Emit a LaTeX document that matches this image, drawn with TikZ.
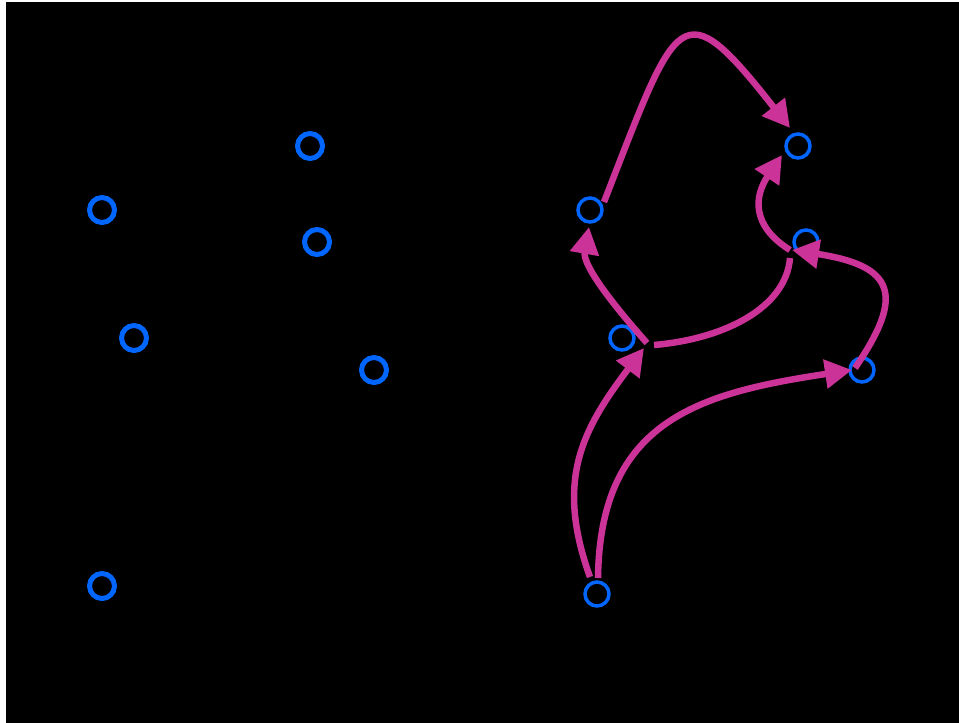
\documentclass[tikz,border=0pt]{standalone}
\usepackage{tikz}
\usetikzlibrary{arrows.meta}
\definecolor{ringblue}{RGB}{0,102,255}
\definecolor{linkpink}{RGB}{204,51,153}

\begin{document}
\begin{tikzpicture}[x=1pt,y=-1pt]
\tikzstyle{state} = [circle, draw=ringblue, line width=5pt, minimum size=25pt, inner sep=0pt]
\tikzstyle{mirror} = [circle, draw=ringblue, line width=3.5pt, minimum size=24pt, inner sep=0pt]
\tikzstyle{link} = [draw=linkpink, line width=6.5pt, -{Triangle[length=27pt,width=28pt]}]
\tikzstyle{bare} = [draw=linkpink, line width=6.5pt]
\useasboundingbox (0,0) rectangle (959,723);
\fill[black] (6,2) rectangle (959,723);
% left group
\node [state] (a1) at (102,210) {};
\node [state] (a2) at (310,146) {};
\node [state] (a3) at (317,242) {};
\node [state] (a4) at (134,338) {};
\node [state] (a5) at (374,370) {};
\node [state] (a6) at (102,586) {};
% right group
\node [mirror] (b1) at (590,210) {};
\node [mirror] (b2) at (798,146) {};
\node [mirror] (b3) at (806,242) {};
\node [mirror] (b4) at (622,338) {};
\node [mirror] (b5) at (862,370) {};
\node [mirror] (b6) at (597,594) {};
% links
\draw[link] ([shift={(14,-8)}]b1.center) .. controls +(74,-190) and +(-110,-140) .. ([shift={(-8,-18)}]b2.center);
\draw[link] ([shift={(25,5)}]b4.center) .. controls +(-47,-53) and +(-6,35) .. ([shift={(-1,17)}]b1.center);
\draw[bare] ([shift={(32,7)}]b4.center) .. controls +(70,-6) and +(-4,50) .. ([shift={(-16,16)}]b3.center);
\draw[link] ([shift={(-16,8)}]b3.center) .. controls +(-40,-25) and +(-27,40) .. ([shift={(-16,9)}]b2.center);
\draw[link] ([shift={(-7,-2)}]b5.center) .. controls +(50,-73) and +(103,16) .. ([shift={(-14,8)}]b3.center);
\draw[link] ([shift={(1,-16)}]b6.center) .. controls +(2,-158) and +(-152,23) .. ([shift={(-10,0)}]b5.center);
\draw[link] ([shift={(-7,-17)}]b6.center) .. controls +(-35,-97) and +(-62,82) .. ([shift={(22,10)}]b4.center);
\end{tikzpicture}
\end{document}
